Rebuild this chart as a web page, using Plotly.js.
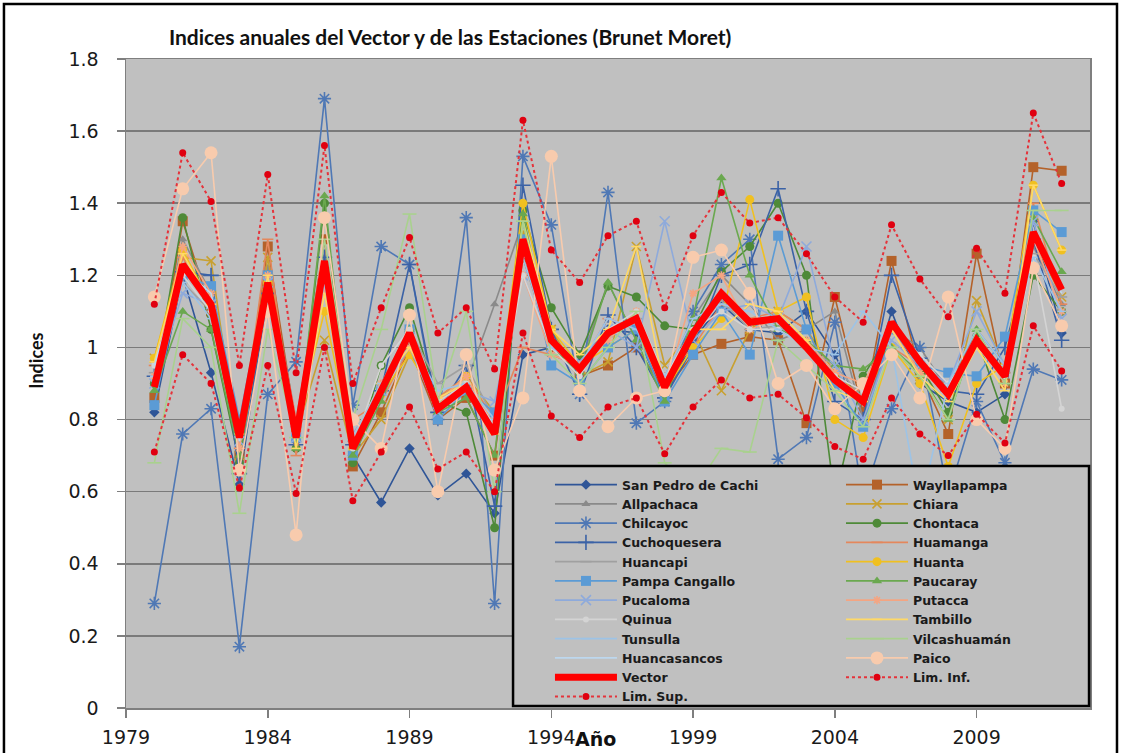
<!DOCTYPE html>
<html><head><meta charset="utf-8">
<script src="https://cdn.plot.ly/plotly-3.0.1.min.js"></script>
<style>html,body{margin:0;padding:0;background:#fff}#chart{width:1131px;height:753px}</style>
</head><body><div id="chart"></div>
<script>
const years = [1980,1981,1982,1983,1984,1985,1986,1987,1988,1989,1990,1991,1992,1993,1994,1995,1996,1997,1998,1999,2000,2001,2002,2003,2004,2005,2006,2007,2008,2009,2010,2011,2012];

const sanPedro = [0.82,1.20,0.93,0.62,1.17,0.74,1.22,0.70,0.57,0.72, 0.59,0.65,0.54,0.98,1.00,0.96,1.05,1.04,0.86,1.02, 1.12,1.05,1.04,1.10,0.98,0.82,1.10,0.90,0.85,0.82, 0.87,1.35,1.04];
const wayllapampa = [0.86,1.35,1.10,0.70,1.28,0.78,1.30,0.67,0.82,1.00, 0.80,0.86,0.70,1.25,1.00,0.92,0.95,1.00,0.88,0.98, 1.01,1.03,1.02,0.79,1.14,0.82,1.24,0.93,0.76,1.26, 0.90,1.50,1.49];
const allpachaca = [0.90,1.30,1.15,0.72,1.22,0.80,1.25,0.68,0.90,1.05, 0.85,0.90,1.12,1.35,0.98,0.95,1.18,1.02,0.92,1.08, 1.20,1.12,1.02,1.05,1.10,0.80,1.05,1.00,0.88,1.05, 0.95,1.28,1.12];
const chiara = [0.97,1.25,1.24,0.70,1.25,0.76,1.02,0.70,0.80,0.98, 0.86,0.92,0.82,1.32,1.05,0.92,0.96,1.28,0.95,1.05, 0.88,1.05,1.10,1.05,0.93,0.86,1.00,0.92,0.80,1.13, 0.94,1.30,1.14];
const chilcayoc = [0.29,0.76,0.83,0.17,0.87,0.96,1.69,0.84,1.28,1.23, 0.80,1.36,0.29,1.53,1.34,0.87,1.43,0.79,0.85,1.10, 1.23,1.30,0.69,0.75,1.07,0.58,0.83,1.00,0.59,0.85, 0.68,0.94,0.91];
const chontaca = [0.90,1.36,1.05,0.68,1.20,0.72,1.40,0.68,0.95,1.11, 0.85,0.82,0.50,1.38,1.11,0.98,1.17,1.14,1.06,1.05, 1.21,1.28,1.40,1.20,0.58,0.92,1.05,0.95,0.82,1.03, 0.80,1.20,1.10];
const cuchoquesera = [0.92,1.21,1.20,0.65,1.15,0.73,1.25,0.73,0.88,1.23, 0.82,0.95,0.56,1.45,1.05,0.87,1.09,1.00,0.86,1.00, 1.20,1.23,1.44,1.10,0.85,0.80,1.20,0.97,0.88,0.87, 1.00,1.30,1.02];
const huamanga = [0.95,1.25,1.10,0.72,1.30,0.70,1.20,0.80,0.85,1.00, 0.86,0.92,0.80,1.00,0.98,0.95,1.08,1.05,0.92,1.00, 1.12,1.08,1.10,1.05,0.90,0.88,1.00,0.95,0.90,1.00, 0.93,1.40,1.12];
const huancapi = [0.93,1.18,1.10,0.75,1.20,0.78,1.22,0.74,0.90,1.05, 0.90,0.95,0.80,1.28,1.00,0.96,1.03,1.08,0.90,1.05, 1.13,1.05,1.06,1.00,0.95,0.86,1.05,0.96,0.88,1.00, 0.93,1.26,1.14];
const huanta = [0.97,1.27,1.12,0.78,1.18,0.78,1.10,0.72,0.87,0.98, 0.85,0.92,0.78,1.40,1.05,0.95,1.00,1.05,0.88,1.00, 1.08,1.41,1.10,1.14,0.80,0.75,1.00,0.90,0.67,0.90, 0.95,1.45,1.27];
const pampaCangallo = [0.84,1.20,1.17,0.80,1.20,0.75,1.20,0.70,0.88,1.05, 0.80,0.88,0.82,1.30,0.95,0.90,1.00,1.05,0.85,0.98, 1.10,0.98,1.31,1.05,0.90,0.78,1.05,0.95,0.93,0.92, 1.03,1.38,1.32];
const paucaray = [0.88,1.10,1.05,0.70,1.15,0.72,1.42,0.70,0.85,1.05, 0.82,0.86,0.70,1.37,1.00,0.93,1.18,1.02,0.85,1.08, 1.47,1.20,1.05,1.02,0.95,0.94,1.00,0.93,0.80,1.05, 0.90,1.36,1.21];
const pucaloma = [0.90,1.15,1.12,0.74,1.18,0.75,1.18,0.76,0.88,1.00, 0.82,0.88,0.85,1.20,1.00,0.96,1.05,1.00,1.35,1.02, 1.10,1.12,1.08,1.28,0.95,0.80,1.02,0.95,0.90,1.10, 0.95,1.35,1.08];
const putacca = [0.92,1.28,1.15,0.72,1.20,0.80,1.15,0.75,0.90,1.00, 0.85,0.92,0.78,1.20,0.98,0.95,1.02,1.10,0.88,1.15, 1.20,1.05,1.08,1.02,0.93,0.90,1.05,0.93,0.88,1.02, 0.90,1.30,1.10];
const quinua = [0.95,1.20,1.10,0.78,1.15,0.78,1.20,0.72,0.95,1.05, 0.85,0.90,0.78,1.20,1.00,0.92,1.05,1.10,0.92,1.05, 1.10,1.05,1.05,1.00,0.92,0.88,1.05,0.98,0.90,1.00, 0.92,1.25,0.83];
const tambillo = [0.96,1.26,1.12,0.76,1.20,0.72,1.15,0.75,0.90,1.00, 0.86,0.90,0.76,1.35,1.05,0.98,1.05,1.28,0.88,1.05, 1.05,1.12,1.10,1.02,0.88,0.85,1.05,0.92,0.85,1.00, 0.88,1.45,1.27];
const tunsulla = [0.92,1.18,1.08,0.78,1.15,0.78,1.18,0.75,0.90,1.02, 0.88,0.90,0.80,1.25,1.00,0.95,1.08,1.05,0.92,1.08, 1.12,1.10,1.05,1.00,0.98,1.10,1.00,0.55,0.90,1.05, 0.95,1.25,1.10];
const vilcashuaman = [0.68,1.08,1.00,0.54,1.05,0.75,1.30,0.80,1.05,1.37, 0.85,1.10,0.60,1.35,0.98,0.90,1.00,1.10,0.68,0.60, 0.72,0.71,1.02,0.95,0.88,0.78,1.00,0.92,0.80,1.05, 0.90,1.38,1.38];
const huancasancos = [0.95,1.22,1.15,0.74,1.18,0.76,1.22,0.74,0.88,1.04, 0.84,0.90,0.78,1.28,1.02,0.95,1.04,1.08,0.90,1.04, 1.14,1.07,1.08,1.00,0.92,0.86,1.06,0.96,0.88,1.02, 0.92,1.30,1.15];
const paico = [1.14,1.44,1.54,0.66,1.10,0.48,1.36,0.80,0.72,1.09, 0.60,0.98,0.66,0.86,1.53,0.88,0.78,0.86,0.88,1.25, 1.27,1.15,0.90,0.95,0.83,0.90,0.98,0.86,1.14,0.80, 0.72,1.22,1.06];

const vector = [0.89,1.23,1.12,0.75,1.18,0.75,1.24,0.72,0.88,1.04, 0.83,0.89,0.76,1.30,1.02,0.94,1.04,1.08,0.89,1.04, 1.15,1.07,1.08,1.00,0.91,0.85,1.07,0.96,0.87,1.02, 0.92,1.32,1.16];
const limInf = [0.71,0.98,0.90,0.61,0.95,0.595,1.00,0.575,0.71,0.835, 0.663,0.71,0.60,1.04,0.81,0.75,0.835,0.86,0.705,0.835, 0.91,0.86,0.87,0.805,0.725,0.69,0.86,0.76,0.70,0.815, 0.735,1.06,0.935];
const limSup = [1.12,1.54,1.405,0.95,1.48,0.93,1.56,0.90,1.11,1.305, 1.04,1.11,0.94,1.63,1.27,1.18,1.31,1.35,1.11,1.31, 1.43,1.345,1.36,1.26,1.14,1.07,1.34,1.19,1.085,1.275, 1.15,1.65,1.455];

const stationNames = ['San Pedro de Cachi','Wayllapampa','Allpachaca','Chiara','Chilcayoc','Chontaca','Cuchoquesera','Huamanga','Huancapi','Huanta','Pampa Cangallo','Paucaray','Pucaloma','Putacca','Quinua','Tambillo','Tunsulla','Vilcashuamán','Huancasancos','Paico'];
const stationValues = [sanPedro,wayllapampa,allpachaca,chiara,chilcayoc,chontaca,cuchoquesera,huamanga,huancapi,huanta,pampaCangallo,paucaray,pucaloma,putacca,quinua,tambillo,tunsulla,vilcashuaman,huancasancos,paico];

const stationStyles = [
  {color:'#2F5597', symbol:'diamond', size:8},
  {color:'#B4622A', symbol:'square', size:10},
  {color:'#8A8A8A', symbol:'triangle-up', size:8},
  {color:'#C8A030', symbol:'x-thin-open', size:9},
  {color:'#4F78B5', symbol:'asterisk-open', size:11},
  {color:'#4E8A38', symbol:'circle', size:9},
  {color:'#3B62A6', symbol:'cross-thin-open', size:11},
  {color:'#E4875C', symbol:'line-ew-open', size:8},
  {color:'#A0A0A0', symbol:'line-ew-open', size:8},
  {color:'#F0C020', symbol:'circle', size:9},
  {color:'#5B9BD5', symbol:'square', size:10},
  {color:'#6AA84F', symbol:'triangle-up', size:9},
  {color:'#8EAADB', symbol:'x-thin-open', size:10},
  {color:'#F4A582', symbol:'asterisk-open', size:7},
  {color:'#D4D4D4', symbol:'circle', size:6},
  {color:'#FFD966', symbol:'line-ew-open', size:7},
  {color:'#9DC3E6', symbol:'line-ew-open', size:6},
  {color:'#A9D18E', symbol:'line-ew-open', size:10},
  {color:'#BDD7EE', symbol:null, size:0},
  {color:'#F8CBAD', symbol:'circle', size:13}
];

const traces = [];
stationNames.forEach((nm, i) => {
  const s = stationStyles[i];
  const t = {
    type:'scatter', x: years, y: stationValues[i], name: nm,
    mode: s.symbol ? 'lines+markers' : 'lines',
    line: {color: s.color, width: 1.6},
    legend: (i % 2 === 0) ? 'legend' : 'legend2'
  };
  if (s.symbol) {
    t.marker = {symbol: s.symbol, size: s.size, color: s.color,
                line: {color: s.color, width: s.symbol.indexOf('open') >= 0 ? 1.6 : 0}};
  }
  traces.push(t);
});
traces.push({type:'scatter', x: years, y: vector, name:'Vector', mode:'lines',
  line:{color:'#FF0000', width:7}, legend:'legend'});
traces.push({type:'scatter', x: years, y: limInf, name:'Lim. Inf.', mode:'lines+markers',
  line:{color:'#E5323A', width:2, dash:'dot'}, marker:{symbol:'circle', size:7, color:'#E00010'}, legend:'legend2'});
traces.push({type:'scatter', x: years, y: limSup, name:'Lim. Sup.', mode:'lines+markers',
  line:{color:'#E5323A', width:2, dash:'dot'}, marker:{symbol:'circle', size:7, color:'#E00010'}, legend:'legend'});

const legFont = {family:'DejaVu Sans', size:12.5, weight:700, color:'#1a1a1a'};
const tickFont = {family:'DejaVu Sans', size:19, color:'#1a1a1a'};

const layout = {
  width:1131, height:753,
  margin:{l:126, r:41, t:59, b:45},
  paper_bgcolor:'#FFFFFF', plot_bgcolor:'#C0C0C0',
  title:{text:'<b>Indices anuales del Vector y de las Estaciones (Brunet Moret)</b>',
         font:{family:'Lato', size:21, color:'#111'}, x:0.398, xref:'container', xanchor:'center', y:0.95, yref:'container', yanchor:'middle'},
  xaxis:{range:[1979,2013], tick0:1979, dtick:5, ticks:'outside', ticklen:8, tickwidth:1.5, tickcolor:'#7F7F7F',
         showgrid:false, zeroline:false, showline:true, linecolor:'#7F7F7F', linewidth:1.5, mirror:true,
         tickfont:tickFont, ticklabelstandoff:4},
  yaxis:{range:[0,1.8], dtick:0.2, ticks:'outside', ticklen:8, tickwidth:1.5, tickcolor:'#7F7F7F',
         showgrid:true, gridcolor:'#7A7A7A', gridwidth:1.5, zeroline:false, showline:true, linecolor:'#7F7F7F',
         linewidth:1.5, mirror:true, tickfont:tickFont, ticklabelstandoff:14},
  showlegend:true,
  legend:{x:0.4398, y:0.3667, xanchor:'left', yanchor:'top', orientation:'v', bgcolor:'rgba(0,0,0,0)',
          borderwidth:0, font:legFont, itemwidth:62, tracegroupgap:0},
  legend2:{x:0.7417, y:0.3667, xanchor:'left', yanchor:'top', orientation:'v', bgcolor:'rgba(0,0,0,0)',
          borderwidth:0, font:legFont, itemwidth:62, tracegroupgap:0},
  shapes:[
    {type:'rect', xref:'paper', yref:'paper', x0:0.4015, x1:0.999, y0:0.003, y1:0.3729,
     fillcolor:'#C0C0C0', line:{color:'#000', width:2.5}, layer:'above'},
    {type:'rect', xref:'paper', yref:'paper', x0:-0.1266, x1:1.028, y0:-0.2, y1:1.0847,
     fillcolor:'rgba(0,0,0,0)', line:{color:'#000', width:2.5}, layer:'above'}
  ],
  annotations:[
    {text:'<b>Indices</b>', xref:'paper', yref:'paper', x:-0.0934, y:0.535, textangle:-90, showarrow:false,
     font:{family:'Lato', size:18, color:'#111'}, xanchor:'center', yanchor:'middle'},
    {text:'<b>Año</b>', xref:'x', yref:'paper', x:1994, xshift:22, y:-0.048, xanchor:'left', yanchor:'middle',
     showarrow:false, font:{family:'DejaVu Sans', size:19, color:'#111'}}
  ]
};

Plotly.newPlot('chart', traces, layout, {displayModeBar:false, staticPlot:true});
</script>
</body></html>
